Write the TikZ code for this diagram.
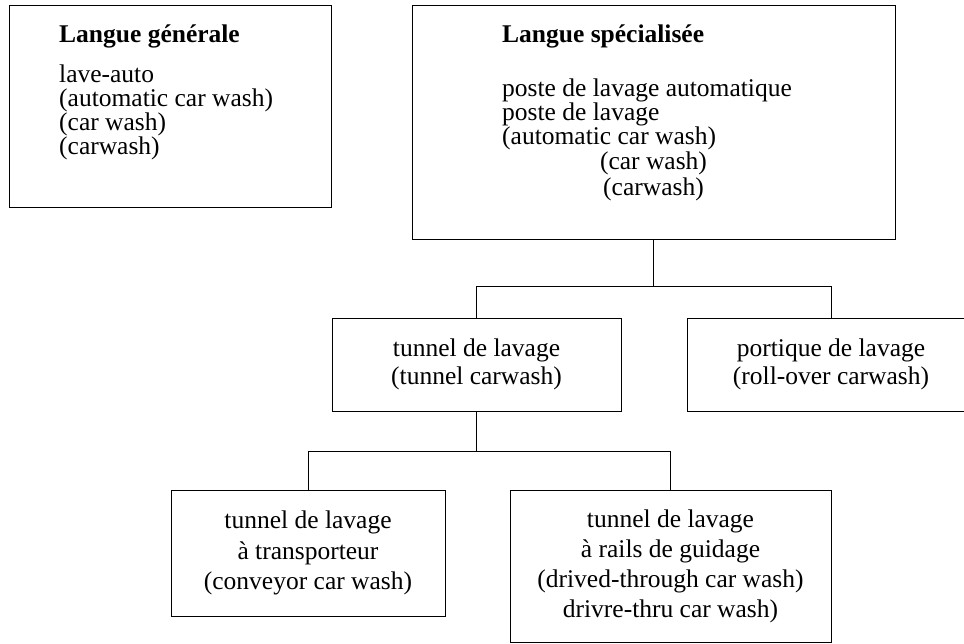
\documentclass[tikz,border=0pt]{standalone}
\usepackage{fontspec}
\setmainfont{Liberation Serif}
\usepackage{tikz}
\usetikzlibrary{positioning}

\begin{document}
\begin{tikzpicture}[x=1pt,y=1pt,
    box/.style={draw,line width=0.9pt,inner sep=0pt,align=center},
    term/.style={inner sep=0pt,font={\fontsize{25.5}{#1}\selectfont\lineskiplimit=-50pt}},
    term/.default=30,
    head/.style={inner sep=0pt,font=\fontsize{25.5}{30}\selectfont\bfseries}]
  \useasboundingbox (0,0) rectangle (964,-644);
  % upper boxes
  \node[box,minimum width=322,minimum height=202] (gen) at (170,-106){};
  \node[box,minimum width=483,minimum height=234] (spec) at (653.5,-122){};
  \node[head,anchor=base west] (genhead) at (59,-43){Langue générale};
  \node[term=24,anchor=base west,align=left] (genterms) at (59,-155)
    {lave-auto\\(automatic car wash)\\(car wash)\\(carwash)};
  \node[head,anchor=base west] (spechead) at (502,-43){Langue spécialisée};
  \node[term=24,anchor=base west,align=left] (specterms) at (502,-145)
    {poste de lavage automatique\\poste de lavage\\(automatic car wash)};
  \node[term=26,anchor=base,align=center] (specshort) at (653.5,-196)
    {(car wash)\\(carwash)};
  % lower boxes (portique runs past the right margin)
  \node[box,term=28,minimum width=289,minimum height=93] (tunnel) at (476.5,-364.5)
    {tunnel de lavage\\(tunnel carwash)};
  \node[box,term=28,minimum width=288,minimum height=93] (portique) at (831,-364.5)
    {portique de lavage\\(roll-over carwash)};
  \node[box,term=30.5,minimum width=274,minimum height=126] (transp) at (308,-553)
    {tunnel de lavage\\à transporteur\\(conveyor car wash)};
  \node[box,term=30,minimum width=321,minimum height=152] (rails) at (670.5,-566)
    {tunnel de lavage\\à rails de guidage\\(drived-through car wash)\\drivre-thru car wash)};
  % tree lines
  \draw[line width=0.9pt] (spec.south) -- ++(0,-47) coordinate (fork1);
  \draw[line width=0.9pt] (tunnel.north) |- (fork1) -| (portique.north);
  \draw[line width=0.9pt] (tunnel.south) -- ++(0,-40) coordinate (fork2);
  \draw[line width=0.9pt] (transp.north) |- (fork2) -| (rails.north);
\end{tikzpicture}
\end{document}
